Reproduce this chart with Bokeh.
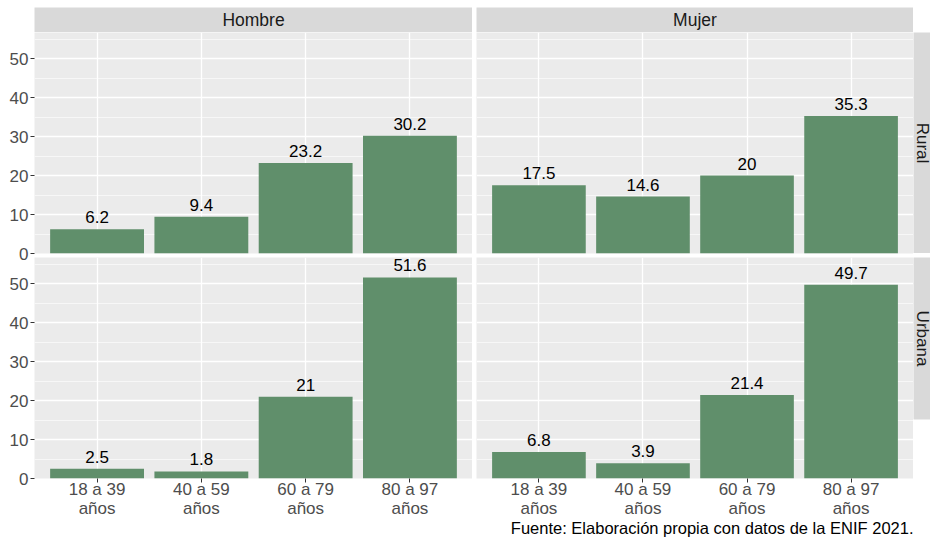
import math
from bokeh.plotting import figure
from bokeh.models import FactorRange, Range1d, FixedTicker, Label, ColumnDataSource, Spacer
from bokeh.layouts import column, row
from bokeh.core.properties import value
from bokeh.embed import file_html
from bokeh.resources import INLINE

# ---- data ----
cats = ["18 a 39\naños", "40 a 59\naños", "60 a 79\naños", "80 a 97\naños"]
sexo = ["Hombre", "Mujer"]
area = ["Rural", "Urbana"]
hombre_rural = [6.2, 9.4, 23.2, 30.2]
mujer_rural = [17.5, 14.6, 20, 35.3]
hombre_urbana = [2.5, 1.8, 21, 51.6]
mujer_urbana = [6.8, 3.9, 21.4, 49.7]
y_ticks = [0, 10, 20, 30, 40, 50]
y_minor = [5, 15, 25, 35, 45, 55]
caption = "Fuente: Elaboración propia con datos de la ENIF 2021."

FONT = "Liberation Sans"
BAR = "#608F6B"
PANEL_BG = "#EBEBEB"
STRIP_BG = "#D9D9D9"
Y_MAX = 56.7


def fmt(v):
    return f"{v:g}"


def panel(vals, width, height, left_axis, bottom_axis, mb_left, mb_top, mb_bottom,
          fill="white"):
    p = figure(width=width, height=height,
               x_range=FactorRange(factors=cats, range_padding=0.05),
               y_range=Range1d(0, Y_MAX),
               output_backend="svg", toolbar_location=None, tools="",
               x_axis_location="below" if bottom_axis else None,
               y_axis_location="left" if left_axis else None,
               min_border_left=mb_left, min_border_right=0,
               min_border_top=mb_top, min_border_bottom=mb_bottom,
               background_fill_color=PANEL_BG, border_fill_color=fill,
               outline_line_color=None)
    p.ygrid.ticker = FixedTicker(ticks=y_ticks, minor_ticks=y_minor)
    p.ygrid.grid_line_color = "white"
    p.ygrid.grid_line_width = 1.3
    p.ygrid.minor_grid_line_color = "white"
    p.ygrid.minor_grid_line_width = 0.6
    p.xgrid.grid_line_color = "white"
    p.xgrid.grid_line_width = 1.3
    src = ColumnDataSource(dict(x=cats, y=vals, lbl=[fmt(v) for v in vals]))
    p.vbar(x="x", top="y", bottom=0, width=0.9, source=src,
           fill_color=BAR, line_color=None)
    p.text(x="x", y="y", text="lbl", source=src, text_align="center",
           text_baseline="alphabetic", y_offset=-12,
           text_font=value(FONT), text_font_size=value("17px"),
           text_color="black")
    for ax in p.axis:
        ax.axis_line_color = None
        ax.major_tick_line_color = "#333333"
        ax.major_tick_out = 4
        ax.major_tick_in = 0
        ax.minor_tick_line_color = None
        ax.major_label_text_font = FONT
        ax.major_label_text_font_size = "17px"
        ax.major_label_text_color = "#4D4D4D"
        ax.major_label_standoff = 2
        ax.major_label_text_line_height = 1.0
    if left_axis:
        p.yaxis.ticker = FixedTicker(ticks=y_ticks)
    if bottom_axis:
        p.xaxis.major_label_standoff = -3
    return p


def strip(text, width, height, mb_left, mb_top, vertical=False):
    s = figure(width=width, height=height, x_range=Range1d(0, 1), y_range=Range1d(0, 1),
               output_backend="svg", toolbar_location=None, tools="",
               x_axis_location=None, y_axis_location=None,
               min_border_left=mb_left, min_border_right=0,
               min_border_top=mb_top, min_border_bottom=0,
               background_fill_color=STRIP_BG, border_fill_color=None,
               outline_line_color=None)
    s.xgrid.visible = False
    s.ygrid.visible = False
    if vertical:
        lab = Label(x=8.5, y=0.5, x_units="screen", text=text, angle=-math.pi / 2,
                    text_align="center", text_baseline="middle", text_line_height=0.8,
                    text_font=FONT, text_font_size="17px", text_color="#1A1A1A")
    else:
        lab = Label(x=0.5, y=0.5, text=text, text_align="center", text_baseline="middle",
                    text_font=FONT, text_font_size="17.5px", text_color="#1A1A1A")
    s.add_layout(lab)
    return s


LW, RW, SW = 472, 441, 17
PH = 221
W = LW + RW + SW

top_strips = row(strip(sexo[0], LW, 32, 34, 7), strip(sexo[1], RW, 32, 4, 7),
                 Spacer(width=SW, height=32))
top_row = row(panel(hombre_rural, LW, PH + 10, True, False, 34, 0, 10),
              panel(mujer_rural, RW, PH + 10, False, False, 4, 0, 10),
              column(strip(area[0], SW, PH, 0, 0, vertical=True),
                     Spacer(width=SW, height=10)))
p_bl = panel(hombre_urbana, LW, 4 + PH + 59, True, True, 34, 4, 59, fill=None)
p_br = panel(mujer_urbana, RW, 4 + PH + 59, False, True, 4, 4, 59, fill=None)
bottom_row = row(p_bl, p_br, strip(area[1], SW, 4 + PH, 0, 4, vertical=True),
                 styles={"margin-top": "-10px"})

cap = figure(width=W, height=21, x_range=Range1d(0, 1), y_range=Range1d(0, 1),
             output_backend="svg", toolbar_location=None, tools="",
             x_axis_location=None, y_axis_location=None,
             min_border_left=0, min_border_right=0, min_border_top=0, min_border_bottom=0,
             background_fill_color=None, border_fill_color=None, outline_line_color=None,
             styles={"margin-top": "-21px"})
cap.xgrid.visible = False
cap.ygrid.visible = False
cap.add_layout(Label(x=913, y=10, x_units="screen", y_units="screen", text=caption,
                     text_align="right", text_baseline="alphabetic",
                     text_font=FONT, text_font_size="16.5px", text_color="black"))

layout = column(top_strips, top_row, bottom_row, cap)
open("out.html", "w").write(file_html(layout, INLINE))
